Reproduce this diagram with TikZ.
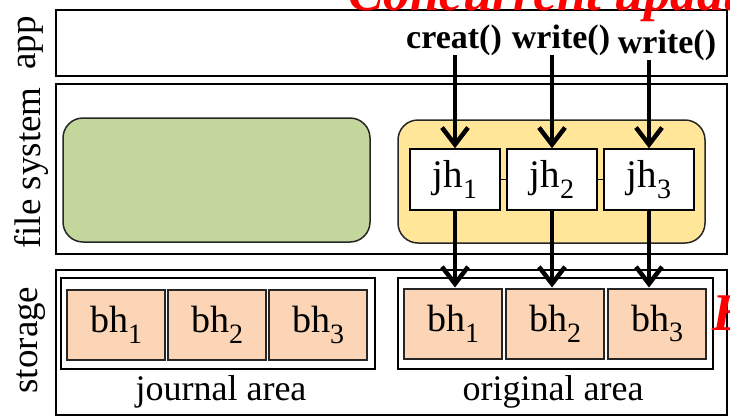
\documentclass[tikz,border=0pt]{standalone}
\usepackage{fontspec}
\setmainfont{Liberation Serif}
\usetikzlibrary{arrows.meta}
\definecolor{leafgreen}{HTML}{C3D69B}
\definecolor{sand}{HTML}{FFE699}
\definecolor{peach}{HTML}{FBD5B5}
\definecolor{alarm}{HTML}{FF0000}
% lowered index digit for block names
\newcommand{\idx}[1]{\raisebox{-0.28em}{\fontsize{28}{28}\selectfont #1}}
\tikzset{
  panel/.style={draw, line width=1.3pt, inner sep=0pt, minimum width=671pt},
  layerlabel/.style={rotate=90, font=\fontsize{37}{37}\selectfont, inner sep=0pt},
  softbox/.style={draw=black!85, line width=1.5pt, rounded corners=20pt, inner sep=0pt},
  jbox/.style={draw, fill=white, line width=1.5pt, inner sep=0pt,
    minimum width=90pt, minimum height=61pt, font=\fontsize{39}{39}\selectfont},
  areabox/.style={draw, line width=1.3pt, inner sep=0pt, minimum height=91pt},
  bbox/.style={draw=black!85, fill=peach, line width=2pt, inner sep=0pt,
    minimum width=98pt, minimum height=70pt, font=\fontsize{38}{38}\selectfont},
  arealabel/.style={anchor=base, inner sep=0pt, font=\fontsize{36}{36}\selectfont},
  callname/.style={anchor=base, inner sep=0pt, font=\fontsize{34}{34}\selectfont\bfseries},
  flow/.style={line width=4.5pt, -{Straight Barb[length=17pt,width=26pt]}},
  chain/.style={line width=1pt},
  shout/.style={anchor=base west, inner sep=0pt, text=alarm,
    font=\fontsize{53}{53}\selectfont\bfseries\itshape},
}
\begin{document}
\begin{tikzpicture}[x=1pt, y=-1pt]
\useasboundingbox (0,0) rectangle (730,418);
\clip (0,0) rectangle (730,418);

% three layers
\node[panel, minimum height=66pt]  (app)     at (391.5,43)    {};
\node[panel, minimum height=170pt] (fs)      at (391.5,169)   {};
\node[panel, minimum height=145pt] (storage) at (391.5,342.5) {};

\node[layerlabel] (lapp) at (31,43)    {app};
\node[layerlabel] (lfs)  at (31,168)   {file system};
\node[layerlabel] (lst)  at (31,340)   {storage};

% file system: idle journal and running transaction
\node[softbox, fill=leafgreen, minimum width=307pt, minimum height=124pt] (idle) at (216.5,180) {};
\node[softbox, fill=sand, minimum width=307pt, minimum height=123pt] (running) at (551.5,181.5) {};

\node[jbox] (jh1) at (455,179.5) {jh\idx{1}};
\node[jbox] (jh2) at (552,179.5) {jh\idx{2}};
\node[jbox] (jh3) at (649,179.5) {jh\idx{3}};
\draw[chain] (jh1) -- (jh2);
\draw[chain] (jh2) -- (jh3);

% storage: journal area and original area
\node[areabox, minimum width=314pt] (jarea) at (218,323.5) {};
\node[areabox, minimum width=315pt] (oarea) at (555.5,323.5) {};

\node[bbox] (jb1) at (116,325) {bh\idx{1}};
\node[bbox] (jb2) at (217,325) {bh\idx{2}};
\node[bbox] (jb3) at (318,325) {bh\idx{3}};

\node[bbox] (ob1) at (453,323.5) {bh\idx{1}};
\node[bbox] (ob2) at (555,323.5) {bh\idx{2}};
\node[bbox] (ob3) at (657,323.5) {bh\idx{3}};

\node[arealabel] (ljarea) at (221,400) {journal area};
\node[arealabel] (loarea) at (553,400) {original area};

% system calls
\node[callname] (creat)  at (454,48) {creat()};
\node[callname] (write1) at (561,48) {write()};
\node[callname] (write2) at (667,53) {write()};

\draw[flow] (jh1.north |- creat.south)  -- (jh1.north);
\draw[flow] (jh2.north |- write1.south) -- (jh2.north);
\draw[flow] (jh3.north |- write2.south) -- (jh3.north);

\draw[flow] (jh1.south) -- (jh1.south |- ob1.north);
\draw[flow] (jh2.south) -- (jh2.south |- ob2.north);
\draw[flow] (jh3.south) -- (jh3.south |- ob3.north);

% headings running past the edge
\node[shout] (title) at (348,10) {Concurrent update};
\node[shout] (tail)  at (712,330) {B};
\end{tikzpicture}
\end{document}
